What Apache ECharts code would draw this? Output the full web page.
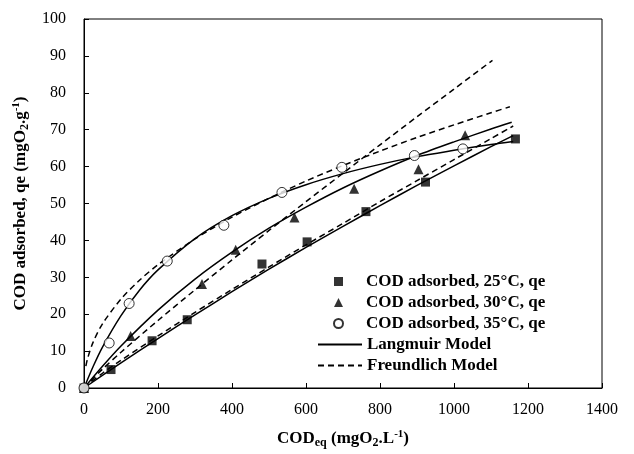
<!DOCTYPE html>
<html>
<head>
<meta charset="utf-8">
<script src="https://cdn.jsdelivr.net/npm/echarts@6/dist/echarts.min.js"></script>
<style>
  html, body { margin: 0; padding: 0; background: #fff; }
  #chart { width: 634px; height: 454px; }
</style>
</head>
<body>
<div id="chart"></div>
<script>
// measured points
const cod25X = [0, 73, 184, 279, 481, 603, 762, 923, 1166];
const cod25Y = [0, 5.0, 12.8, 18.5, 33.6, 39.6, 47.8, 55.8, 67.5];
const cod30X = [0, 126, 319, 410, 569, 730, 904, 1030];
const cod30Y = [0, 14.1, 28.2, 37.5, 46.2, 54.0, 59.3, 68.5];
const cod35X = [0, 68, 122, 225, 378, 535, 697, 893, 1024];
const cod35Y = [0, 12.2, 22.9, 34.4, 44.1, 53.0, 59.8, 63.0, 64.8];

// model curves
const lang25X = [0, 100, 200, 300, 400, 500, 600, 700, 800, 900, 1000, 1100, 1160];
const lang25Y = [0, 6.8, 13.4, 19.8, 26.1, 32.2, 38.1, 43.8, 49.4, 54.9, 60.2, 65.4, 68.4];
const frd25X = [0, 10, 50, 100, 200, 300, 400, 500, 600, 700, 800, 900, 1000, 1100, 1160];
const frd25Y = [0, 0.9, 4.0, 7.5, 14.1, 20.5, 26.7, 32.8, 38.8, 44.6, 50.5, 56.2, 61.9, 67.6, 71.0];
const lang30X = [0, 50, 100, 200, 300, 400, 500, 600, 700, 800, 900, 1000, 1100, 1156];
const lang30Y = [0, 5.9, 11.4, 21.1, 29.5, 36.8, 43.3, 49.0, 54.2, 58.8, 63.0, 66.7, 70.2, 72.0];
const frd30X = [0, 50, 100, 200, 300, 400, 500, 600, 700, 800, 900, 1000, 1104];
const frd30Y = [0, 5.1, 9.7, 18.3, 26.6, 34.7, 42.7, 50.5, 58.2, 65.9, 73.5, 81.0, 88.8];
const lang35X = [0, 25, 50, 100, 150, 200, 300, 400, 500, 600, 700, 800, 900, 1000, 1100, 1160];
const lang35Y = [0, 5.9, 11.1, 19.6, 26.5, 32.0, 40.5, 46.7, 51.4, 55.1, 58.1, 60.6, 62.7, 64.4, 66.0, 66.8];
const frd35X = [5, 10, 25, 50, 100, 150, 200, 300, 400, 500, 600, 700, 800, 900, 1000, 1100, 1151];
const frd35Y = [5.9, 8.1, 12.5, 17.4, 24.1, 29.2, 33.4, 40.4, 46.3, 51.4, 56.1, 60.3, 64.2, 67.9, 71.3, 74.6, 76.2];

const pointNames = ["COD adsorbed, 25°C, qe", "COD adsorbed, 30°C, qe", "COD adsorbed, 35°C, qe"];
const modelNames = ["Langmuir Model", "Freundlich Model"];

const font = "'Liberation Serif', 'Times New Roman', serif";
const pairs = (xs, ys) => xs.map((x, i) => [x, ys[i]]);

function modelLine(name, xs, ys, dashed) {
    return {
        type: "line", name: name, data: pairs(xs, ys),
        smooth: 0.3, symbol: "none", z: 2,
        lineStyle: {color: "#000", width: 1.5, type: dashed ? [6, 4] : "solid"},
        // transparent so the legend shows only the line
        itemStyle: {color: "rgba(0,0,0,0)", borderWidth: 0}
    };
}

const chart = echarts.init(document.getElementById("chart"), null, {renderer: "canvas"});

const subRich = {
    b: {fontFamily: font, fontWeight: "bold", fontSize: 17, color: "#000", lineHeight: 20},
    sub: {fontFamily: font, fontWeight: "bold", fontSize: 12, color: "#000", lineHeight: 11, verticalAlign: "bottom"},
    sup: {fontFamily: font, fontWeight: "bold", fontSize: 11, color: "#000", lineHeight: 11, verticalAlign: "top"}
};
const legendText = {fontFamily: font, fontWeight: "bold", fontSize: 17, color: "#000", lineHeight: 21};

chart.setOption({
    animation: false,
    backgroundColor: "#fff",
    grid: {left: 84, right: 32, top: 19, bottom: 63, show: true, borderColor: "#000", borderWidth: 1, backgroundColor: "transparent"},
    legend: [
        {
            data: pointNames, orient: "vertical", left: 333, top: 271, padding: 0,
            itemWidth: 9, itemHeight: 9, itemGap: 0, selectedMode: false,
            textStyle: Object.assign({padding: [0, 0, 0, 18]}, legendText)
        },
        {
            data: modelNames, orient: "vertical", left: 317, top: 334, padding: 0,
            itemWidth: 44, itemHeight: 9, itemGap: 0, selectedMode: false,
            textStyle: legendText
        }
    ],
    xAxis: {
        type: "value", min: 0, max: 1400, interval: 200,
        name: "{b|COD}{sub|eq}{b| (mgO}{sub|2}{b|.L}{sup|-1}{b|)}",
        nameLocation: "middle", nameGap: 41,
        nameTextStyle: {rich: subRich},
        axisLine: {lineStyle: {color: "#000", width: 1}},
        axisTick: {inside: true, length: 5, lineStyle: {color: "#000"}},
        axisLabel: {fontFamily: font, fontSize: 16, color: "#000", margin: 14, formatter: v => String(v)},
        splitLine: {show: false}
    },
    yAxis: {
        type: "value", min: 0, max: 100, interval: 10,
        name: "{b|COD adsorbed, qe (mgO}{sub|2}{b|.g}{sup|-1}{b|)}",
        nameLocation: "middle", nameGap: 50, nameRotate: 90,
        nameTextStyle: {rich: subRich},
        axisLine: {lineStyle: {color: "#000", width: 1}},
        axisTick: {inside: true, length: 5, lineStyle: {color: "#000"}},
        axisLabel: {fontFamily: font, fontSize: 16, color: "#000", margin: 18},
        splitLine: {show: false}
    },
    series: [
        {type: "scatter", name: pointNames[0], data: pairs(cod25X, cod25Y), symbol: "rect", symbolSize: 9, z: 5,
            itemStyle: {color: "#000"}},
        {type: "scatter", name: pointNames[1], data: pairs(cod30X, cod30Y), symbol: "triangle", symbolSize: 10, z: 5,
            itemStyle: {color: "#000"}},
        {type: "scatter", name: pointNames[2], data: pairs(cod35X, cod35Y), symbol: "circle", symbolSize: 10, z: 5,
            itemStyle: {color: "#fff", borderColor: "#000", borderWidth: 1}},
        modelLine(modelNames[0], lang25X, lang25Y, false),
        modelLine(modelNames[0], lang30X, lang30Y, false),
        modelLine(modelNames[0], lang35X, lang35Y, false),
        modelLine(modelNames[1], frd25X, frd25Y, true),
        modelLine(modelNames[1], frd30X, frd30Y, true),
        modelLine(modelNames[1], frd35X, frd35Y, true)
    ]
});
</script>
</body>
</html>
